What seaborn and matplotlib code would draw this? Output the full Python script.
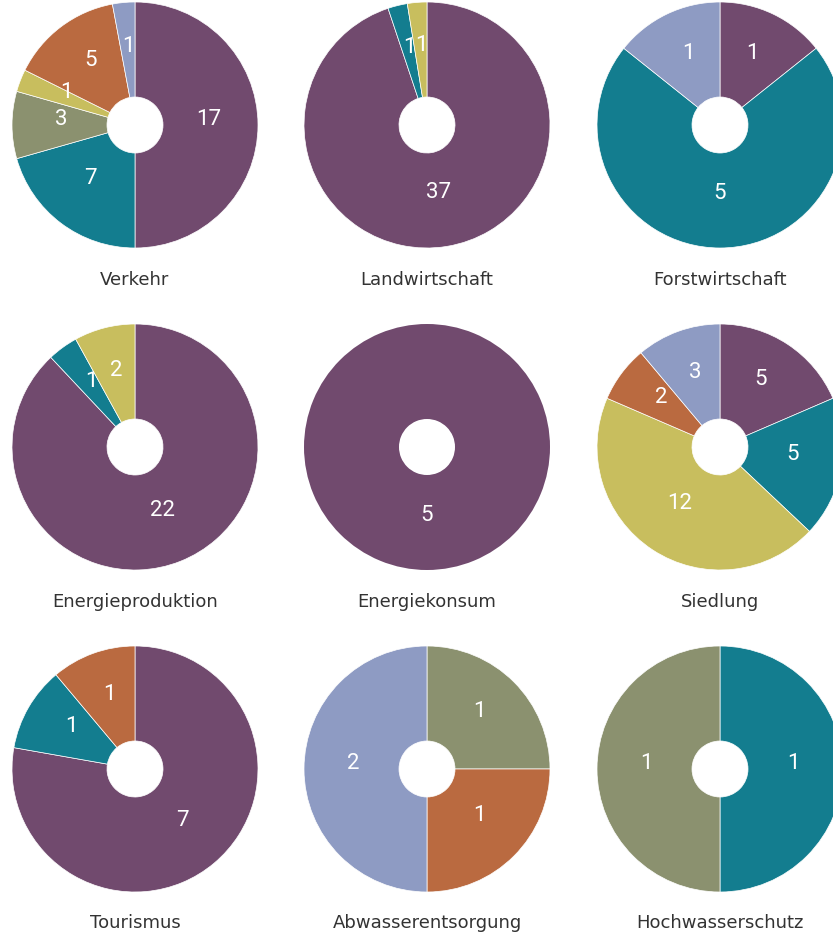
import matplotlib.pyplot as plt
import seaborn as sns

sns.set_theme(style="white")
plt.rcParams['font.family'] = ['Roboto', 'DejaVu Sans']

# Kategorien (Reihenfolge im Uhrzeigersinn ab 12 Uhr)
kategorien = ["A", "B", "C", "D", "E", "F"]
farben = ["#714a6e", "#137d8f", "#8b916f", "#c8be5e", "#ba6a40", "#8e9bc3"]

sektoren = ["Verkehr", "Landwirtschaft", "Forstwirtschaft",
            "Energieproduktion", "Energiekonsum", "Siedlung",
            "Tourismus", "Abwasserentsorgung", "Hochwasserschutz"]

verkehr = [17, 7, 3, 1, 5, 1]
landwirtschaft = [37, 1, 0, 1, 0, 0]
forstwirtschaft = [1, 5, 0, 0, 0, 1]
energieproduktion = [22, 1, 0, 2, 0, 0]
energiekonsum = [5, 0, 0, 0, 0, 0]
siedlung = [5, 5, 0, 12, 2, 3]
tourismus = [7, 1, 0, 0, 1, 0]
abwasser = [0, 0, 1, 0, 1, 2]
hochwasser = [0, 1, 1, 0, 0, 0]

werte = [verkehr, landwirtschaft, forstwirtschaft,
         energieproduktion, energiekonsum, siedlung,
         tourismus, abwasser, hochwasser]

palette = sns.color_palette(farben)

W, H = 833, 934
fig = plt.figure(figsize=(W / 100, H / 100), dpi=100)

spalten_x = [135, 427, 720]
zeilen_y = [125, 447, 769]
titel_y = [280, 602, 923]
R = 123
pad = 4

for i, (name, vals) in enumerate(zip(sektoren, werte)):
    cx = spalten_x[i % 3]
    cy = zeilen_y[i // 3]
    half = R + pad
    ax = fig.add_axes([(cx - half) / W, 1 - (cy + half) / H, 2 * half / W, 2 * half / H])

    v = [x for x in vals if x > 0]
    c = [palette[k] for k, x in enumerate(vals) if x > 0]
    total = sum(v)
    lw = 0.5 if len(v) > 1 else 0

    wedges, texts, autotexts = ax.pie(
        v, colors=c, startangle=90, counterclock=False,
        autopct=lambda p, t=total: f"{round(p * t / 100):d}",
        pctdistance=0.6,
        wedgeprops=dict(width=1 - 28 / R, edgecolor="white", linewidth=lw),
        textprops=dict(color="white", fontsize=16))
    for t in autotexts:
        t.set_va("baseline")
        t.set_ha("center")

    lim = half / R
    ax.set_xlim(-lim, lim)
    ax.set_ylim(-lim, lim)
    ax.set_aspect("equal")
    ax.axis("off")

    fig.text(cx / W, 1 - titel_y[i // 3] / H, name, ha="center", va="center",
             fontsize=13, color="#333333", family=["DejaVu Sans"])

fig.savefig("out.png", dpi=100)
